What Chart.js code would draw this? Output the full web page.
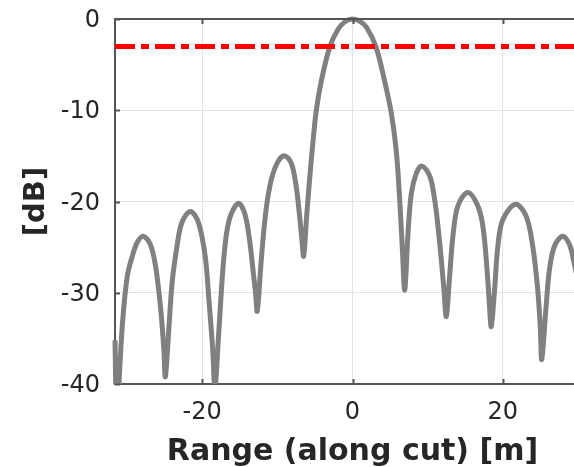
<!DOCTYPE html>
<html>
<head>
<meta charset="utf-8">
<script src="https://cdn.jsdelivr.net/npm/chart.js@4.4.1/dist/chart.umd.min.js"></script>
<style>
  html, body { margin: 0; padding: 0; background: #fff; overflow: hidden; }
  #wrap { width: 574px; height: 467px; overflow: hidden; }
</style>
</head>
<body>
<div id="wrap"><canvas id="cut" width="590" height="467"></canvas></div>
<script>
// Range cut response
const rangeM = [
  -31.6, -31.35, -31.1, -30.6, -29.97, -29.3, -28.65, -27.85, -26.9, -26.2, -25.55, -25.1, -24.9,
  -24.44, -24.0, -23.35, -22.7, -21.57, -20.5, -19.6, -19.1, -18.6, -18.3,
  -17.8, -17.1, -16.4, -15.2, -14.35, -13.7, -13.24, -12.9, -12.67,
  -12.1, -11.5, -10.8, -9.9, -9.03, -8.15, -7.5, -7.04, -6.73, -6.5,
  -6.1, -5.67, -5.23, -4.8, -4.1, -3.0, -1.9, -1.0, 0, 1.0, 1.86, 3.1, 4.3, 5.18, 5.84, 6.28, 6.64, 6.95,
  7.39, 7.83, 8.5, 9.2, 10.27, 10.93, 11.37, 11.82, 12.17, 12.48,
  12.92, 13.36, 14.02, 15.35, 16.68, 17.4, 18.0, 18.23, 18.46,
  18.9, 19.34, 20.0, 21.69, 23.1, 23.98, 24.65, 25.0, 25.18,
  25.76, 26.2, 26.87, 27.97, 28.86, 29.4, 30.0, 30.6
];
const gainDb = [
  -35.2, -46, -40.5, -33.3, -28.2, -26.0, -24.5, -23.8, -24.7, -27.1, -31.5, -36.2, -39.2,
  -34.0, -28.9, -24.9, -22.3, -21.1, -22.3, -26.0, -30.8, -36.2, -40.5,
  -34.4, -26.0, -22.0, -20.2, -21.3, -24.2, -27.5, -30.0, -32.0,
  -26.0, -20.9, -17.6, -15.6, -15.0, -15.8, -18.3, -21.6, -24.2, -26.0,
  -21.6, -17.2, -13.2, -9.9, -6.6, -3.0, -1.1, -0.3, 0, -0.25, -0.9, -3.0, -6.9, -10.4, -14.6, -19.8, -25.3, -29.7,
  -23.4, -19.1, -16.9, -16.1, -17.2, -19.8, -22.7, -26.4, -29.7, -32.6,
  -28.2, -23.8, -20.5, -19.0, -20.5, -23.0, -28.6, -31.5, -33.7,
  -29.7, -24.9, -22.0, -20.3, -21.6, -24.9, -29.7, -34.0, -37.3,
  -31.5, -27.5, -24.9, -23.8, -24.7, -26.4, -28.8, -32.0
];
const halfPowerDb = -3;
const xLimits = [-31.6, 31.6];
const yLimits = [-40, 0];
const xTicks = [-20, 0, 20];
const yTicks = [-40, -30, -20, -10, 0];

const axisColor = "#555555";
const textColor = "#262626";

// MATLAB-style box: top edge plus inward tick marks
const boxPlugin = {
  id: "box",
  afterDraw(chart) {
    const { ctx, chartArea: a, scales } = chart;
    ctx.save();
    ctx.strokeStyle = axisColor;
    ctx.lineWidth = 2;
    ctx.beginPath();
    ctx.moveTo(a.left - 1, a.top);
    ctx.lineTo(a.right, a.top);
    xTicks.forEach((v) => {
      const px = Math.round(scales.x.getPixelForValue(v)) + 0.5;
      ctx.moveTo(px, a.bottom);
      ctx.lineTo(px, a.bottom - 5);
      ctx.moveTo(px, a.top);
      ctx.lineTo(px, a.top + 5);
    });
    yTicks.forEach((v) => {
      const py = Math.round(scales.y.getPixelForValue(v)) + 0.5;
      ctx.moveTo(a.left, py);
      ctx.lineTo(a.left + 5, py);
    });
    ctx.stroke();
    ctx.restore();
  },
};

new Chart(document.getElementById("cut"), {
  type: "line",
  data: {
    datasets: [
      {
        label: "-3 dB",
        data: xLimits.map((x) => ({ x, y: halfPowerDb })),
        borderColor: "#ff0000",
        borderWidth: 5,
        borderDash: [20, 6, 8, 6],
        pointRadius: 0,
        order: 0,
      },
      {
        label: "cut",
        data: rangeM.map((x, i) => ({ x, y: gainDb[i] })),
        borderColor: "#808080",
        borderWidth: 5,
        tension: 0.35,
        pointRadius: 0,
        clip: { left: 3, top: 4, right: 0, bottom: 0 },
        order: 1,
      },
    ],
  },
  options: {
    responsive: false,
    animation: false,
    devicePixelRatio: 1,
    layout: { padding: { top: 19, left: 0, right: 0, bottom: 0 } },
    plugins: { legend: { display: false }, tooltip: { enabled: false } },
    scales: {
      x: {
        type: "linear",
        min: xLimits[0],
        max: xLimits[1],
        afterBuildTicks: (s) => { s.ticks = xTicks.map((v) => ({ value: v })); },
        afterFit: (s) => {
          s.height = 83;
          s.paddingLeft = 0;
          s.paddingRight = 0;
        },
        grid: { color: "#e3e3e3", lineWidth: 1, drawTicks: false },
        border: { display: true, color: axisColor, width: 2 },
        ticks: { color: textColor, padding: 14, font: { family: "DejaVu Sans", size: 24 } },
        title: {
          display: true,
          text: "Range (along cut) [m]",
          color: textColor,
          padding: { top: 0, bottom: 0 },
          font: { family: "DejaVu Sans", size: 30, weight: "bold", lineHeight: 1 },
        },
      },
      y: {
        min: yLimits[0],
        max: yLimits[1],
        afterBuildTicks: (s) => { s.ticks = yTicks.map((v) => ({ value: v })); },
        afterFit: (s) => {
          s.width = 115;
          s.paddingTop = 0;
          s.paddingBottom = 0;
        },
        grid: { color: "#e3e3e3", lineWidth: 1, drawTicks: false },
        border: { display: true, color: axisColor, width: 2 },
        ticks: { color: textColor, padding: 15, labelOffset: 2, font: { family: "DejaVu Sans", size: 24 } },
        title: {
          display: true,
          text: "[dB]",
          color: textColor,
          padding: { top: 22, bottom: 0 },
          font: { family: "DejaVu Sans", size: 29, weight: "bold", lineHeight: 1 },
        },
      },
    },
  },
  plugins: [boxPlugin],
});
</script>
</body>
</html>
